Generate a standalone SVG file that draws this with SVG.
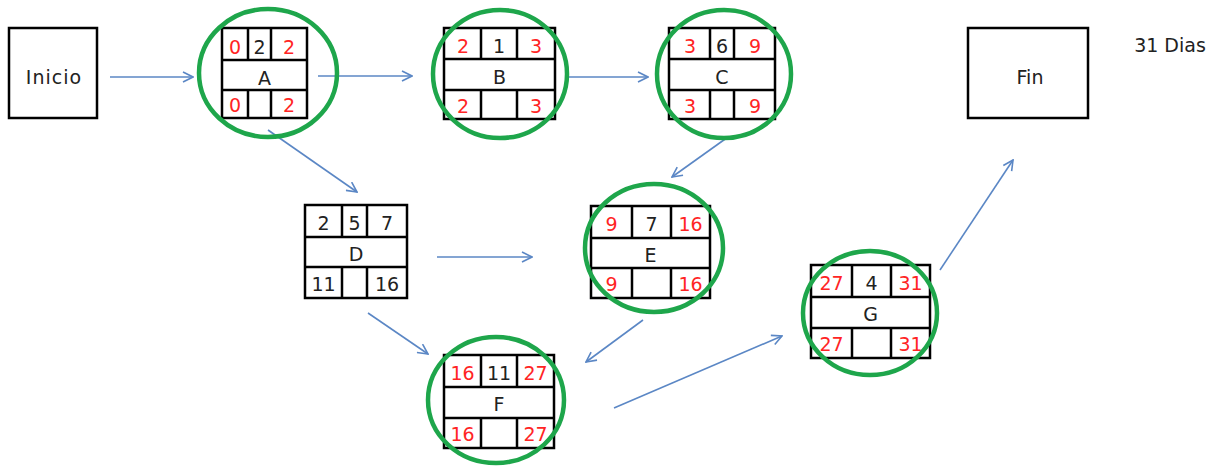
<svg xmlns="http://www.w3.org/2000/svg" width="1221" height="467" viewBox="0 0 1221 467">
  <style>
    .box { fill: #ffffff; stroke: #000000; stroke-width: 2.5; }
    .grid { stroke: #000000; stroke-width: 2.5; fill: none; }
    .ring { fill: none; stroke: #1ea64b; stroke-width: 4.5; }
    .t { font-family: "DejaVu Sans", "Liberation Sans", sans-serif; font-size: 19px; text-anchor: middle; dominant-baseline: central; fill: #222222; }
    .lbl { letter-spacing: 1px; }
    .r { fill: #ff2424; }
    .link { fill: none; stroke: #5b87c5; stroke-width: 1.6; marker-end: url(#arrow); }
  </style>
  <defs>
    <marker id="arrow" viewBox="0 0 12 12" refX="11" refY="6" markerWidth="12" markerHeight="12" markerUnits="userSpaceOnUse" orient="auto">
      <path d="M1,1 L11,6 L1,11" fill="none" stroke="#5b87c5" stroke-width="1.6"/>
    </marker>
  </defs>
  <rect width="1221" height="467" fill="#ffffff"/>

  <g id="connectors">
    <line class="link" x1="110" y1="77" x2="193" y2="77"/>
    <line class="link" x1="318" y1="76" x2="412" y2="76"/>
    <line class="link" x1="567" y1="77" x2="648" y2="77"/>
    <line class="link" x1="268" y1="130" x2="357" y2="192"/>
    <line class="link" x1="728" y1="137" x2="672" y2="177"/>
    <line class="link" x1="437" y1="257" x2="532" y2="257"/>
    <line class="link" x1="368" y1="313" x2="428" y2="354"/>
    <line class="link" x1="643" y1="320" x2="586" y2="362"/>
    <line class="link" x1="614" y1="408" x2="782" y2="336"/>
    <line class="link" x1="940" y1="270" x2="1013" y2="160"/>
  </g>

  <g id="inicio">
    <rect class="box" x="9" y="28" width="88" height="90"/>
    <text class="t lbl" x="54" y="77">Inicio</text>
  </g>

  <g id="A">
    <rect class="box" x="222" y="28" width="85" height="90"/>
    <path class="grid" d="M222,60 H307 M222,90 H307 M248,28 V60 M271,28 V60 M248,90 V118 M271,90 V118"/>
    <text class="t r" x="235" y="47">0</text>
    <text class="t" x="259.5" y="47">2</text>
    <text class="t r" x="289" y="47">2</text>
    <text class="t" x="264.5" y="78">A</text>
    <text class="t r" x="235" y="105">0</text>
    <text class="t r" x="289" y="105">2</text>
    <ellipse class="ring" cx="268" cy="73" rx="69" ry="64"/>
  </g>

  <g id="B">
    <rect class="box" x="444" y="28" width="111" height="91"/>
    <path class="grid" d="M444,59 H555 M444,90 H555 M481,28 V59 M517,28 V59 M481,90 V119 M517,90 V119"/>
    <text class="t r" x="463" y="46">2</text>
    <text class="t" x="499" y="46">1</text>
    <text class="t r" x="536" y="46">3</text>
    <text class="t" x="499.5" y="77">B</text>
    <text class="t r" x="463" y="106">2</text>
    <text class="t r" x="536" y="106">3</text>
    <ellipse class="ring" cx="500" cy="74" rx="67" ry="64"/>
  </g>

  <g id="C">
    <rect class="box" x="669" y="28" width="106" height="91"/>
    <path class="grid" d="M669,59 H775 M669,90 H775 M710,28 V59 M734,28 V59 M710,90 V119 M734,90 V119"/>
    <text class="t r" x="690" y="46">3</text>
    <text class="t" x="722" y="46">6</text>
    <text class="t r" x="755" y="46">9</text>
    <text class="t" x="722" y="77">C</text>
    <text class="t r" x="690" y="106">3</text>
    <text class="t r" x="755" y="106">9</text>
    <ellipse class="ring" cx="724" cy="74" rx="67" ry="64"/>
  </g>

  <g id="D">
    <rect class="box" x="305" y="205" width="102" height="93"/>
    <path class="grid" d="M305,237 H407 M305,267 H407 M342,205 V237 M367,205 V237 M342,267 V298 M367,267 V298"/>
    <text class="t" x="323.5" y="223">2</text>
    <text class="t" x="354.5" y="223">5</text>
    <text class="t" x="387" y="223">7</text>
    <text class="t" x="356" y="254">D</text>
    <text class="t" x="323.5" y="284">11</text>
    <text class="t" x="387" y="284">16</text>
  </g>

  <g id="E">
    <rect class="box" x="591" y="206" width="119" height="92"/>
    <path class="grid" d="M591,238 H710 M591,268 H710 M632,206 V238 M671,206 V238 M632,268 V298 M671,268 V298"/>
    <text class="t r" x="611.5" y="224">9</text>
    <text class="t" x="651.5" y="224">7</text>
    <text class="t r" x="690.5" y="224">16</text>
    <text class="t" x="650.5" y="255">E</text>
    <text class="t r" x="611.5" y="284">9</text>
    <text class="t r" x="690.5" y="284">16</text>
    <ellipse class="ring" cx="654" cy="248" rx="69" ry="64"/>
  </g>

  <g id="F">
    <rect class="box" x="444" y="355" width="110" height="93"/>
    <path class="grid" d="M444,387 H554 M444,418 H554 M481,355 V387 M517,355 V387 M481,418 V448 M517,418 V448"/>
    <text class="t r" x="462.5" y="373">16</text>
    <text class="t" x="499" y="373">11</text>
    <text class="t r" x="535.5" y="373">27</text>
    <text class="t" x="499" y="404">F</text>
    <text class="t r" x="462.5" y="434">16</text>
    <text class="t r" x="535.5" y="434">27</text>
    <ellipse class="ring" cx="496" cy="400" rx="68" ry="63"/>
  </g>

  <g id="G">
    <rect class="box" x="811" y="265" width="119" height="93"/>
    <path class="grid" d="M811,297 H930 M811,328 H930 M852,265 V297 M891,265 V297 M852,328 V358 M891,328 V358"/>
    <text class="t r" x="831.5" y="283">27</text>
    <text class="t" x="871.5" y="283">4</text>
    <text class="t r" x="910.5" y="283">31</text>
    <text class="t" x="870.5" y="314">G</text>
    <text class="t r" x="831.5" y="344">27</text>
    <text class="t r" x="910.5" y="344">31</text>
    <ellipse class="ring" cx="870" cy="313" rx="67" ry="62"/>
  </g>

  <g id="fin">
    <rect class="box" x="968" y="28" width="120" height="90"/>
    <text class="t" x="1030" y="77">Fin</text>
  </g>

  <text class="t" x="1170" y="45">31 Dias</text>
</svg>
